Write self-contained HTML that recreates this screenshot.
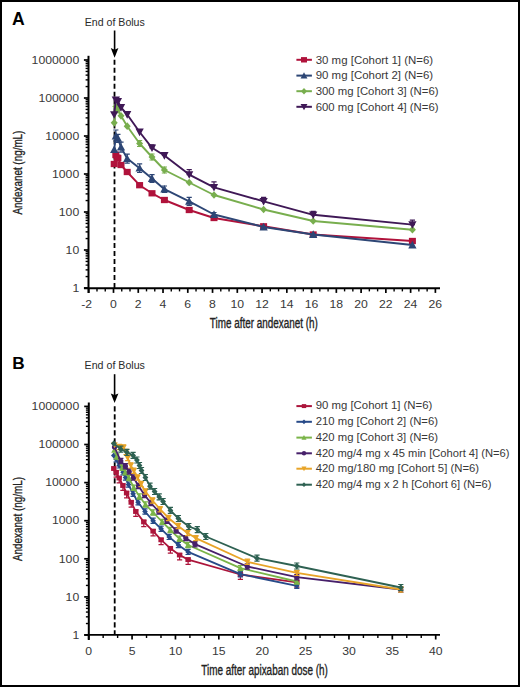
<!DOCTYPE html>
<html><head><meta charset="utf-8"><style>
html,body{margin:0;padding:0;background:#fff;}
body{width:520px;height:687px;overflow:hidden;}
svg{display:block;font-family:"Liberation Sans", sans-serif;}
</style></head><body>
<svg width="520" height="687" viewBox="0 0 520 687">
<rect x="0" y="0" width="520" height="687" fill="#fff"/>
<text x="12.0" y="25.2" font-size="17.6" text-anchor="start" font-weight="bold" fill="#000">A</text>
<text x="84.8" y="26.0" font-size="10.7" text-anchor="start" font-weight="normal" fill="#2a2a2a" textLength="60" lengthAdjust="spacingAndGlyphs">End of Bolus</text>
<path d="M114.6,30.5V51.3" stroke="#000" stroke-width="1.6" fill="none"/>
<path d="M110.8,48.0 L114.6,49.699999999999996 L118.39999999999999,48.0 L114.6,57.699999999999996Z" fill="#000"/>
<path d="M114.5,59.8V288" stroke="#000" stroke-width="1.8" stroke-dasharray="5 2.97" fill="none"/>
<path d="M88.5,55.8V293" stroke="#000" stroke-width="2.0" fill="none"/>
<path d="M83.9,288.00H88.5" stroke="#000" stroke-width="1.7"/>
<path d="M85.6,276.56H88.5" stroke="#000" stroke-width="1.4"/>
<path d="M85.6,269.87H88.5" stroke="#000" stroke-width="1.4"/>
<path d="M85.6,265.12H88.5" stroke="#000" stroke-width="1.4"/>
<path d="M85.6,261.44H88.5" stroke="#000" stroke-width="1.4"/>
<path d="M85.6,258.43H88.5" stroke="#000" stroke-width="1.4"/>
<path d="M85.6,255.89H88.5" stroke="#000" stroke-width="1.4"/>
<path d="M85.6,253.68H88.5" stroke="#000" stroke-width="1.4"/>
<path d="M85.6,251.74H88.5" stroke="#000" stroke-width="1.4"/>
<text x="79.2" y="291.7" font-size="10.3" text-anchor="end" font-weight="normal" fill="#383838" textLength="6.8" lengthAdjust="spacingAndGlyphs">1</text>
<path d="M83.9,250.00H88.5" stroke="#000" stroke-width="1.7"/>
<path d="M85.6,238.56H88.5" stroke="#000" stroke-width="1.4"/>
<path d="M85.6,231.87H88.5" stroke="#000" stroke-width="1.4"/>
<path d="M85.6,227.12H88.5" stroke="#000" stroke-width="1.4"/>
<path d="M85.6,223.44H88.5" stroke="#000" stroke-width="1.4"/>
<path d="M85.6,220.43H88.5" stroke="#000" stroke-width="1.4"/>
<path d="M85.6,217.89H88.5" stroke="#000" stroke-width="1.4"/>
<path d="M85.6,215.68H88.5" stroke="#000" stroke-width="1.4"/>
<path d="M85.6,213.74H88.5" stroke="#000" stroke-width="1.4"/>
<text x="79.2" y="253.7" font-size="10.3" text-anchor="end" font-weight="normal" fill="#383838" textLength="13.6" lengthAdjust="spacingAndGlyphs">10</text>
<path d="M83.9,212.00H88.5" stroke="#000" stroke-width="1.7"/>
<path d="M85.6,200.56H88.5" stroke="#000" stroke-width="1.4"/>
<path d="M85.6,193.87H88.5" stroke="#000" stroke-width="1.4"/>
<path d="M85.6,189.12H88.5" stroke="#000" stroke-width="1.4"/>
<path d="M85.6,185.44H88.5" stroke="#000" stroke-width="1.4"/>
<path d="M85.6,182.43H88.5" stroke="#000" stroke-width="1.4"/>
<path d="M85.6,179.89H88.5" stroke="#000" stroke-width="1.4"/>
<path d="M85.6,177.68H88.5" stroke="#000" stroke-width="1.4"/>
<path d="M85.6,175.74H88.5" stroke="#000" stroke-width="1.4"/>
<text x="79.2" y="215.7" font-size="10.3" text-anchor="end" font-weight="normal" fill="#383838" textLength="20.4" lengthAdjust="spacingAndGlyphs">100</text>
<path d="M83.9,174.00H88.5" stroke="#000" stroke-width="1.7"/>
<path d="M85.6,162.56H88.5" stroke="#000" stroke-width="1.4"/>
<path d="M85.6,155.87H88.5" stroke="#000" stroke-width="1.4"/>
<path d="M85.6,151.12H88.5" stroke="#000" stroke-width="1.4"/>
<path d="M85.6,147.44H88.5" stroke="#000" stroke-width="1.4"/>
<path d="M85.6,144.43H88.5" stroke="#000" stroke-width="1.4"/>
<path d="M85.6,141.89H88.5" stroke="#000" stroke-width="1.4"/>
<path d="M85.6,139.68H88.5" stroke="#000" stroke-width="1.4"/>
<path d="M85.6,137.74H88.5" stroke="#000" stroke-width="1.4"/>
<text x="79.2" y="177.7" font-size="10.3" text-anchor="end" font-weight="normal" fill="#383838" textLength="27.2" lengthAdjust="spacingAndGlyphs">1000</text>
<path d="M83.9,136.00H88.5" stroke="#000" stroke-width="1.7"/>
<path d="M85.6,124.56H88.5" stroke="#000" stroke-width="1.4"/>
<path d="M85.6,117.87H88.5" stroke="#000" stroke-width="1.4"/>
<path d="M85.6,113.12H88.5" stroke="#000" stroke-width="1.4"/>
<path d="M85.6,109.44H88.5" stroke="#000" stroke-width="1.4"/>
<path d="M85.6,106.43H88.5" stroke="#000" stroke-width="1.4"/>
<path d="M85.6,103.89H88.5" stroke="#000" stroke-width="1.4"/>
<path d="M85.6,101.68H88.5" stroke="#000" stroke-width="1.4"/>
<path d="M85.6,99.74H88.5" stroke="#000" stroke-width="1.4"/>
<text x="79.2" y="139.7" font-size="10.3" text-anchor="end" font-weight="normal" fill="#383838" textLength="34.0" lengthAdjust="spacingAndGlyphs">10000</text>
<path d="M83.9,98.00H88.5" stroke="#000" stroke-width="1.7"/>
<path d="M85.6,86.56H88.5" stroke="#000" stroke-width="1.4"/>
<path d="M85.6,79.87H88.5" stroke="#000" stroke-width="1.4"/>
<path d="M85.6,75.12H88.5" stroke="#000" stroke-width="1.4"/>
<path d="M85.6,71.44H88.5" stroke="#000" stroke-width="1.4"/>
<path d="M85.6,68.43H88.5" stroke="#000" stroke-width="1.4"/>
<path d="M85.6,65.89H88.5" stroke="#000" stroke-width="1.4"/>
<path d="M85.6,63.68H88.5" stroke="#000" stroke-width="1.4"/>
<path d="M85.6,61.74H88.5" stroke="#000" stroke-width="1.4"/>
<text x="79.2" y="101.7" font-size="10.3" text-anchor="end" font-weight="normal" fill="#383838" textLength="40.8" lengthAdjust="spacingAndGlyphs">100000</text>
<path d="M83.9,60.00H88.5" stroke="#000" stroke-width="1.7"/>
<text x="79.2" y="63.7" font-size="10.3" text-anchor="end" font-weight="normal" fill="#383838" textLength="47.6" lengthAdjust="spacingAndGlyphs">1000000</text>
<path d="M84,288.3H440" stroke="#000" stroke-width="1.9" fill="none"/>
<path d="M88.74,288.3V292.90000000000003" stroke="#000" stroke-width="1.7"/>
<text x="86.74" y="308.2" font-size="10.3" text-anchor="middle" font-weight="normal" fill="#383838" textLength="10.8" lengthAdjust="spacingAndGlyphs">-2</text>
<path d="M113.50,288.3V292.90000000000003" stroke="#000" stroke-width="1.7"/>
<text x="113.50" y="308.2" font-size="10.3" text-anchor="middle" font-weight="normal" fill="#383838" textLength="6.8" lengthAdjust="spacingAndGlyphs">0</text>
<path d="M138.26,288.3V292.90000000000003" stroke="#000" stroke-width="1.7"/>
<text x="138.26" y="308.2" font-size="10.3" text-anchor="middle" font-weight="normal" fill="#383838" textLength="6.8" lengthAdjust="spacingAndGlyphs">2</text>
<path d="M163.02,288.3V292.90000000000003" stroke="#000" stroke-width="1.7"/>
<text x="163.02" y="308.2" font-size="10.3" text-anchor="middle" font-weight="normal" fill="#383838" textLength="6.8" lengthAdjust="spacingAndGlyphs">4</text>
<path d="M187.78,288.3V292.90000000000003" stroke="#000" stroke-width="1.7"/>
<text x="187.78" y="308.2" font-size="10.3" text-anchor="middle" font-weight="normal" fill="#383838" textLength="6.8" lengthAdjust="spacingAndGlyphs">6</text>
<path d="M212.54,288.3V292.90000000000003" stroke="#000" stroke-width="1.7"/>
<text x="212.54" y="308.2" font-size="10.3" text-anchor="middle" font-weight="normal" fill="#383838" textLength="6.8" lengthAdjust="spacingAndGlyphs">8</text>
<path d="M237.30,288.3V292.90000000000003" stroke="#000" stroke-width="1.7"/>
<text x="237.30" y="308.2" font-size="10.3" text-anchor="middle" font-weight="normal" fill="#383838" textLength="13.6" lengthAdjust="spacingAndGlyphs">10</text>
<path d="M262.06,288.3V292.90000000000003" stroke="#000" stroke-width="1.7"/>
<text x="262.06" y="308.2" font-size="10.3" text-anchor="middle" font-weight="normal" fill="#383838" textLength="13.6" lengthAdjust="spacingAndGlyphs">12</text>
<path d="M286.82,288.3V292.90000000000003" stroke="#000" stroke-width="1.7"/>
<text x="286.82" y="308.2" font-size="10.3" text-anchor="middle" font-weight="normal" fill="#383838" textLength="13.6" lengthAdjust="spacingAndGlyphs">14</text>
<path d="M311.58,288.3V292.90000000000003" stroke="#000" stroke-width="1.7"/>
<text x="311.58" y="308.2" font-size="10.3" text-anchor="middle" font-weight="normal" fill="#383838" textLength="13.6" lengthAdjust="spacingAndGlyphs">16</text>
<path d="M336.34,288.3V292.90000000000003" stroke="#000" stroke-width="1.7"/>
<text x="336.34" y="308.2" font-size="10.3" text-anchor="middle" font-weight="normal" fill="#383838" textLength="13.6" lengthAdjust="spacingAndGlyphs">18</text>
<path d="M361.10,288.3V292.90000000000003" stroke="#000" stroke-width="1.7"/>
<text x="361.10" y="308.2" font-size="10.3" text-anchor="middle" font-weight="normal" fill="#383838" textLength="13.6" lengthAdjust="spacingAndGlyphs">20</text>
<path d="M385.86,288.3V292.90000000000003" stroke="#000" stroke-width="1.7"/>
<text x="385.86" y="308.2" font-size="10.3" text-anchor="middle" font-weight="normal" fill="#383838" textLength="13.6" lengthAdjust="spacingAndGlyphs">22</text>
<path d="M410.62,288.3V292.90000000000003" stroke="#000" stroke-width="1.7"/>
<text x="410.62" y="308.2" font-size="10.3" text-anchor="middle" font-weight="normal" fill="#383838" textLength="13.6" lengthAdjust="spacingAndGlyphs">24</text>
<path d="M435.38,288.3V292.90000000000003" stroke="#000" stroke-width="1.7"/>
<text x="435.38" y="308.2" font-size="10.3" text-anchor="middle" font-weight="normal" fill="#383838" textLength="13.6" lengthAdjust="spacingAndGlyphs">26</text>
<path d="M96.99,288.3V291.40000000000003" stroke="#000" stroke-width="1.4"/>
<path d="M105.25,288.3V291.40000000000003" stroke="#000" stroke-width="1.4"/>
<path d="M121.75,288.3V291.40000000000003" stroke="#000" stroke-width="1.4"/>
<path d="M130.01,288.3V291.40000000000003" stroke="#000" stroke-width="1.4"/>
<path d="M146.51,288.3V291.40000000000003" stroke="#000" stroke-width="1.4"/>
<path d="M154.77,288.3V291.40000000000003" stroke="#000" stroke-width="1.4"/>
<path d="M171.27,288.3V291.40000000000003" stroke="#000" stroke-width="1.4"/>
<path d="M179.53,288.3V291.40000000000003" stroke="#000" stroke-width="1.4"/>
<path d="M196.03,288.3V291.40000000000003" stroke="#000" stroke-width="1.4"/>
<path d="M204.29,288.3V291.40000000000003" stroke="#000" stroke-width="1.4"/>
<path d="M220.79,288.3V291.40000000000003" stroke="#000" stroke-width="1.4"/>
<path d="M229.05,288.3V291.40000000000003" stroke="#000" stroke-width="1.4"/>
<path d="M245.55,288.3V291.40000000000003" stroke="#000" stroke-width="1.4"/>
<path d="M253.81,288.3V291.40000000000003" stroke="#000" stroke-width="1.4"/>
<path d="M270.31,288.3V291.40000000000003" stroke="#000" stroke-width="1.4"/>
<path d="M278.57,288.3V291.40000000000003" stroke="#000" stroke-width="1.4"/>
<path d="M295.07,288.3V291.40000000000003" stroke="#000" stroke-width="1.4"/>
<path d="M303.33,288.3V291.40000000000003" stroke="#000" stroke-width="1.4"/>
<path d="M319.83,288.3V291.40000000000003" stroke="#000" stroke-width="1.4"/>
<path d="M328.09,288.3V291.40000000000003" stroke="#000" stroke-width="1.4"/>
<path d="M344.59,288.3V291.40000000000003" stroke="#000" stroke-width="1.4"/>
<path d="M352.85,288.3V291.40000000000003" stroke="#000" stroke-width="1.4"/>
<path d="M369.35,288.3V291.40000000000003" stroke="#000" stroke-width="1.4"/>
<path d="M377.61,288.3V291.40000000000003" stroke="#000" stroke-width="1.4"/>
<path d="M394.11,288.3V291.40000000000003" stroke="#000" stroke-width="1.4"/>
<path d="M402.37,288.3V291.40000000000003" stroke="#000" stroke-width="1.4"/>
<path d="M418.87,288.3V291.40000000000003" stroke="#000" stroke-width="1.4"/>
<path d="M427.13,288.3V291.40000000000003" stroke="#000" stroke-width="1.4"/>
<text x="209.8" y="327.5" font-size="14" text-anchor="start" font-weight="normal" fill="#222" textLength="108.0" lengthAdjust="spacingAndGlyphs" stroke="#222" stroke-width="0.35">Time after andexanet (h)</text>
<text transform="translate(22.3,172.6) rotate(-90)" x="0" y="0" font-size="13.3" text-anchor="middle" fill="#222" stroke="#222" stroke-width="0.35" textLength="84" lengthAdjust="spacingAndGlyphs">Andexanet (ng/mL)</text>
<path d="M114.20,164.00 L115.83,155.00 L117.90,158.00 L121.00,165.00 L127.20,172.00 L139.60,185.20 L152.00,193.30 L164.40,200.00 L189.20,210.00 L214.00,218.00 L263.60,226.30 L313.20,234.50 L412.40,241.00" stroke="#b0123b" stroke-width="1.9" fill="none" stroke-linejoin="round"/>
<path d="M115.83,152.00V158.00M113.23,152.00h5.20M113.23,158.00h5.20" stroke="#b0123b" stroke-width="1.2" fill="none"/>
<path d="M117.90,155.00V161.00M115.30,155.00h5.20M115.30,161.00h5.20" stroke="#b0123b" stroke-width="1.2" fill="none"/>
<rect x="110.70" y="160.85" width="7.00" height="6.30" fill="#b0123b"/>
<rect x="112.33" y="151.85" width="7.00" height="6.30" fill="#b0123b"/>
<rect x="114.40" y="154.85" width="7.00" height="6.30" fill="#b0123b"/>
<rect x="117.50" y="161.85" width="7.00" height="6.30" fill="#b0123b"/>
<rect x="123.70" y="168.85" width="7.00" height="6.30" fill="#b0123b"/>
<rect x="136.10" y="182.05" width="7.00" height="6.30" fill="#b0123b"/>
<rect x="148.50" y="190.15" width="7.00" height="6.30" fill="#b0123b"/>
<rect x="160.90" y="196.85" width="7.00" height="6.30" fill="#b0123b"/>
<rect x="185.70" y="206.85" width="7.00" height="6.30" fill="#b0123b"/>
<rect x="210.50" y="214.85" width="7.00" height="6.30" fill="#b0123b"/>
<rect x="260.10" y="223.15" width="7.00" height="6.30" fill="#b0123b"/>
<rect x="309.70" y="231.35" width="7.00" height="6.30" fill="#b0123b"/>
<rect x="408.90" y="237.85" width="7.00" height="6.30" fill="#b0123b"/>
<path d="M114.20,149.60 L115.83,136.00 L117.90,138.40 L121.00,147.20 L127.20,158.60 L139.60,168.20 L152.00,178.50 L164.40,189.20 L189.20,201.40 L214.00,214.50 L263.60,227.00 L313.20,234.50 L412.40,245.00" stroke="#2d4675" stroke-width="1.9" fill="none" stroke-linejoin="round"/>
<path d="M115.83,130.00V141.00M113.23,130.00h5.20M113.23,141.00h5.20" stroke="#2d4675" stroke-width="1.2" fill="none"/>
<path d="M117.90,134.40V142.40M115.30,134.40h5.20M115.30,142.40h5.20" stroke="#2d4675" stroke-width="1.2" fill="none"/>
<path d="M121.00,142.20V152.20M118.40,142.20h5.20M118.40,152.20h5.20" stroke="#2d4675" stroke-width="1.2" fill="none"/>
<path d="M127.20,154.10V163.10M124.60,154.10h5.20M124.60,163.10h5.20" stroke="#2d4675" stroke-width="1.2" fill="none"/>
<path d="M139.60,163.90V172.50M137.00,163.90h5.20M137.00,172.50h5.20" stroke="#2d4675" stroke-width="1.2" fill="none"/>
<path d="M152.00,174.70V182.30M149.40,174.70h5.20M149.40,182.30h5.20" stroke="#2d4675" stroke-width="1.2" fill="none"/>
<path d="M164.40,186.00V192.40M161.80,186.00h5.20M161.80,192.40h5.20" stroke="#2d4675" stroke-width="1.2" fill="none"/>
<path d="M189.20,197.40V205.40M186.60,197.40h5.20M186.60,205.40h5.20" stroke="#2d4675" stroke-width="1.2" fill="none"/>
<path d="M214.00,212.50V216.50M211.40,212.50h5.20M211.40,216.50h5.20" stroke="#2d4675" stroke-width="1.2" fill="none"/>
<path d="M114.20,145.46 L118.34,153.02 L110.06,153.02Z" fill="#2d4675"/>
<path d="M115.83,131.86 L119.97,139.42 L111.69,139.42Z" fill="#2d4675"/>
<path d="M117.90,134.26 L122.04,141.82 L113.76,141.82Z" fill="#2d4675"/>
<path d="M121.00,143.06 L125.14,150.62 L116.86,150.62Z" fill="#2d4675"/>
<path d="M127.20,154.46 L131.34,162.02 L123.06,162.02Z" fill="#2d4675"/>
<path d="M139.60,164.06 L143.74,171.62 L135.46,171.62Z" fill="#2d4675"/>
<path d="M152.00,174.36 L156.14,181.92 L147.86,181.92Z" fill="#2d4675"/>
<path d="M164.40,185.06 L168.54,192.62 L160.26,192.62Z" fill="#2d4675"/>
<path d="M189.20,197.26 L193.34,204.82 L185.06,204.82Z" fill="#2d4675"/>
<path d="M214.00,210.36 L218.14,217.92 L209.86,217.92Z" fill="#2d4675"/>
<path d="M263.60,222.86 L267.74,230.42 L259.46,230.42Z" fill="#2d4675"/>
<path d="M313.20,230.36 L317.34,237.92 L309.06,237.92Z" fill="#2d4675"/>
<path d="M412.40,240.86 L416.54,248.42 L408.26,248.42Z" fill="#2d4675"/>
<path d="M114.20,122.80 L115.83,106.50 L117.90,110.00 L121.00,115.80 L127.20,126.20 L139.60,143.50 L152.00,157.00 L164.40,170.00 L189.20,182.50 L214.00,195.00 L263.60,209.50 L313.20,221.00 L412.40,229.70" stroke="#78ae4e" stroke-width="1.9" fill="none" stroke-linejoin="round"/>
<path d="M139.60,140.50V146.50M137.00,140.50h5.20M137.00,146.50h5.20" stroke="#78ae4e" stroke-width="1.2" fill="none"/>
<path d="M152.00,154.00V160.00M149.40,154.00h5.20M149.40,160.00h5.20" stroke="#78ae4e" stroke-width="1.2" fill="none"/>
<path d="M164.40,167.00V173.00M161.80,167.00h5.20M161.80,173.00h5.20" stroke="#78ae4e" stroke-width="1.2" fill="none"/>
<path d="M114.20,118.95 L117.70,122.80 L114.20,126.65 L110.70,122.80Z" fill="#78ae4e"/>
<path d="M115.83,102.65 L119.33,106.50 L115.83,110.35 L112.33,106.50Z" fill="#78ae4e"/>
<path d="M117.90,106.15 L121.40,110.00 L117.90,113.85 L114.40,110.00Z" fill="#78ae4e"/>
<path d="M121.00,111.95 L124.50,115.80 L121.00,119.65 L117.50,115.80Z" fill="#78ae4e"/>
<path d="M127.20,122.35 L130.70,126.20 L127.20,130.05 L123.70,126.20Z" fill="#78ae4e"/>
<path d="M139.60,139.65 L143.10,143.50 L139.60,147.35 L136.10,143.50Z" fill="#78ae4e"/>
<path d="M152.00,153.15 L155.50,157.00 L152.00,160.85 L148.50,157.00Z" fill="#78ae4e"/>
<path d="M164.40,166.15 L167.90,170.00 L164.40,173.85 L160.90,170.00Z" fill="#78ae4e"/>
<path d="M189.20,178.65 L192.70,182.50 L189.20,186.35 L185.70,182.50Z" fill="#78ae4e"/>
<path d="M214.00,191.15 L217.50,195.00 L214.00,198.85 L210.50,195.00Z" fill="#78ae4e"/>
<path d="M263.60,205.65 L267.10,209.50 L263.60,213.35 L260.10,209.50Z" fill="#78ae4e"/>
<path d="M313.20,217.15 L316.70,221.00 L313.20,224.85 L309.70,221.00Z" fill="#78ae4e"/>
<path d="M412.40,225.85 L415.90,229.70 L412.40,233.55 L408.90,229.70Z" fill="#78ae4e"/>
<path d="M114.20,114.60 L115.83,100.00 L117.90,101.50 L121.00,107.50 L127.20,114.50 L139.60,132.00 L152.00,147.80 L164.40,155.50 L189.20,174.60 L214.00,187.40 L263.60,201.30 L313.20,214.80 L412.40,224.60" stroke="#3f1856" stroke-width="1.9" fill="none" stroke-linejoin="round"/>
<path d="M152.00,144.80V147.80M149.40,144.80h5.20M149.40,147.80h5.20" stroke="#3f1856" stroke-width="1.2" fill="none"/>
<path d="M164.40,152.50V155.50M161.80,152.50h5.20M161.80,155.50h5.20" stroke="#3f1856" stroke-width="1.2" fill="none"/>
<path d="M189.20,169.60V174.60M186.60,169.60h5.20M186.60,174.60h5.20" stroke="#3f1856" stroke-width="1.2" fill="none"/>
<path d="M214.00,181.90V187.40M211.40,181.90h5.20M211.40,187.40h5.20" stroke="#3f1856" stroke-width="1.2" fill="none"/>
<path d="M263.60,197.30V201.30M261.00,197.30h5.20M261.00,201.30h5.20" stroke="#3f1856" stroke-width="1.2" fill="none"/>
<path d="M313.20,211.30V214.80M310.60,211.30h5.20M310.60,214.80h5.20" stroke="#3f1856" stroke-width="1.2" fill="none"/>
<path d="M412.40,220.10V224.60M409.80,220.10h5.20M409.80,224.60h5.20" stroke="#3f1856" stroke-width="1.2" fill="none"/>
<path d="M114.20,118.74 L118.34,111.18 L110.06,111.18Z" fill="#3f1856"/>
<path d="M115.83,104.14 L119.97,96.58 L111.69,96.58Z" fill="#3f1856"/>
<path d="M117.90,105.64 L122.04,98.08 L113.76,98.08Z" fill="#3f1856"/>
<path d="M121.00,111.64 L125.14,104.08 L116.86,104.08Z" fill="#3f1856"/>
<path d="M127.20,118.64 L131.34,111.08 L123.06,111.08Z" fill="#3f1856"/>
<path d="M139.60,136.14 L143.74,128.58 L135.46,128.58Z" fill="#3f1856"/>
<path d="M152.00,151.94 L156.14,144.38 L147.86,144.38Z" fill="#3f1856"/>
<path d="M164.40,159.64 L168.54,152.08 L160.26,152.08Z" fill="#3f1856"/>
<path d="M189.20,178.74 L193.34,171.18 L185.06,171.18Z" fill="#3f1856"/>
<path d="M214.00,191.54 L218.14,183.98 L209.86,183.98Z" fill="#3f1856"/>
<path d="M263.60,205.44 L267.74,197.88 L259.46,197.88Z" fill="#3f1856"/>
<path d="M313.20,218.94 L317.34,211.38 L309.06,211.38Z" fill="#3f1856"/>
<path d="M412.40,228.74 L416.54,221.18 L408.26,221.18Z" fill="#3f1856"/>
<path d="M296.4,59.8H311.9" stroke="#b0123b" stroke-width="2.0"/>
<rect x="301.00" y="57.10" width="6.00" height="5.40" fill="#b0123b"/>
<text x="315.7" y="63.5" font-size="10" text-anchor="start" font-weight="normal" fill="#383838" textLength="117.5" lengthAdjust="spacingAndGlyphs">30 mg [Cohort 1] (N=6)</text>
<path d="M296.4,75.6H311.9" stroke="#2d4675" stroke-width="2.0"/>
<path d="M304.00,72.15 L307.45,78.45 L300.55,78.45Z" fill="#2d4675"/>
<text x="315.7" y="79.3" font-size="10" text-anchor="start" font-weight="normal" fill="#383838" textLength="117.5" lengthAdjust="spacingAndGlyphs">90 mg [Cohort 2] (N=6)</text>
<path d="M296.4,91.2H311.9" stroke="#78ae4e" stroke-width="2.0"/>
<path d="M304.00,87.90 L307.00,91.20 L304.00,94.50 L301.00,91.20Z" fill="#78ae4e"/>
<text x="315.7" y="94.9" font-size="10" text-anchor="start" font-weight="normal" fill="#383838" textLength="122.8" lengthAdjust="spacingAndGlyphs">300 mg [Cohort 3] (N=6)</text>
<path d="M296.4,106.8H311.9" stroke="#3f1856" stroke-width="2.0"/>
<path d="M304.00,110.25 L307.45,103.95 L300.55,103.95Z" fill="#3f1856"/>
<text x="315.7" y="110.5" font-size="10" text-anchor="start" font-weight="normal" fill="#383838" textLength="122.8" lengthAdjust="spacingAndGlyphs">600 mg [Cohort 4] (N=6)</text>
<text x="12.2" y="368.7" font-size="17.2" text-anchor="start" font-weight="bold" fill="#000">B</text>
<text x="84.6" y="369.1" font-size="10.7" text-anchor="start" font-weight="normal" fill="#2a2a2a" textLength="60.3" lengthAdjust="spacingAndGlyphs">End of Bolus</text>
<path d="M114.6,374.2V396.7" stroke="#000" stroke-width="1.6" fill="none"/>
<path d="M110.8,393.4 L114.6,395.09999999999997 L118.39999999999999,393.4 L114.6,403.09999999999997Z" fill="#000"/>
<path d="M114.7,406.3V635" stroke="#000" stroke-width="1.8" stroke-dasharray="5.2 2.8" fill="none"/>
<path d="M88.8,402.5V640" stroke="#000" stroke-width="2.0" fill="none"/>
<path d="M84.2,635.00H88.8" stroke="#000" stroke-width="1.7"/>
<path d="M85.89999999999999,623.53H88.8" stroke="#000" stroke-width="1.4"/>
<path d="M85.89999999999999,616.82H88.8" stroke="#000" stroke-width="1.4"/>
<path d="M85.89999999999999,612.06H88.8" stroke="#000" stroke-width="1.4"/>
<path d="M85.89999999999999,608.37H88.8" stroke="#000" stroke-width="1.4"/>
<path d="M85.89999999999999,605.35H88.8" stroke="#000" stroke-width="1.4"/>
<path d="M85.89999999999999,602.80H88.8" stroke="#000" stroke-width="1.4"/>
<path d="M85.89999999999999,600.59H88.8" stroke="#000" stroke-width="1.4"/>
<path d="M85.89999999999999,598.64H88.8" stroke="#000" stroke-width="1.4"/>
<text x="79.2" y="638.7" font-size="10.3" text-anchor="end" font-weight="normal" fill="#383838" textLength="6.8" lengthAdjust="spacingAndGlyphs">1</text>
<path d="M84.2,596.90H88.8" stroke="#000" stroke-width="1.7"/>
<path d="M85.89999999999999,585.43H88.8" stroke="#000" stroke-width="1.4"/>
<path d="M85.89999999999999,578.72H88.8" stroke="#000" stroke-width="1.4"/>
<path d="M85.89999999999999,573.96H88.8" stroke="#000" stroke-width="1.4"/>
<path d="M85.89999999999999,570.27H88.8" stroke="#000" stroke-width="1.4"/>
<path d="M85.89999999999999,567.25H88.8" stroke="#000" stroke-width="1.4"/>
<path d="M85.89999999999999,564.70H88.8" stroke="#000" stroke-width="1.4"/>
<path d="M85.89999999999999,562.49H88.8" stroke="#000" stroke-width="1.4"/>
<path d="M85.89999999999999,560.54H88.8" stroke="#000" stroke-width="1.4"/>
<text x="79.2" y="600.6" font-size="10.3" text-anchor="end" font-weight="normal" fill="#383838" textLength="13.6" lengthAdjust="spacingAndGlyphs">10</text>
<path d="M84.2,558.80H88.8" stroke="#000" stroke-width="1.7"/>
<path d="M85.89999999999999,547.33H88.8" stroke="#000" stroke-width="1.4"/>
<path d="M85.89999999999999,540.62H88.8" stroke="#000" stroke-width="1.4"/>
<path d="M85.89999999999999,535.86H88.8" stroke="#000" stroke-width="1.4"/>
<path d="M85.89999999999999,532.17H88.8" stroke="#000" stroke-width="1.4"/>
<path d="M85.89999999999999,529.15H88.8" stroke="#000" stroke-width="1.4"/>
<path d="M85.89999999999999,526.60H88.8" stroke="#000" stroke-width="1.4"/>
<path d="M85.89999999999999,524.39H88.8" stroke="#000" stroke-width="1.4"/>
<path d="M85.89999999999999,522.44H88.8" stroke="#000" stroke-width="1.4"/>
<text x="79.2" y="562.5" font-size="10.3" text-anchor="end" font-weight="normal" fill="#383838" textLength="20.4" lengthAdjust="spacingAndGlyphs">100</text>
<path d="M84.2,520.70H88.8" stroke="#000" stroke-width="1.7"/>
<path d="M85.89999999999999,509.23H88.8" stroke="#000" stroke-width="1.4"/>
<path d="M85.89999999999999,502.52H88.8" stroke="#000" stroke-width="1.4"/>
<path d="M85.89999999999999,497.76H88.8" stroke="#000" stroke-width="1.4"/>
<path d="M85.89999999999999,494.07H88.8" stroke="#000" stroke-width="1.4"/>
<path d="M85.89999999999999,491.05H88.8" stroke="#000" stroke-width="1.4"/>
<path d="M85.89999999999999,488.50H88.8" stroke="#000" stroke-width="1.4"/>
<path d="M85.89999999999999,486.29H88.8" stroke="#000" stroke-width="1.4"/>
<path d="M85.89999999999999,484.34H88.8" stroke="#000" stroke-width="1.4"/>
<text x="79.2" y="524.4000000000001" font-size="10.3" text-anchor="end" font-weight="normal" fill="#383838" textLength="27.2" lengthAdjust="spacingAndGlyphs">1000</text>
<path d="M84.2,482.60H88.8" stroke="#000" stroke-width="1.7"/>
<path d="M85.89999999999999,471.13H88.8" stroke="#000" stroke-width="1.4"/>
<path d="M85.89999999999999,464.42H88.8" stroke="#000" stroke-width="1.4"/>
<path d="M85.89999999999999,459.66H88.8" stroke="#000" stroke-width="1.4"/>
<path d="M85.89999999999999,455.97H88.8" stroke="#000" stroke-width="1.4"/>
<path d="M85.89999999999999,452.95H88.8" stroke="#000" stroke-width="1.4"/>
<path d="M85.89999999999999,450.40H88.8" stroke="#000" stroke-width="1.4"/>
<path d="M85.89999999999999,448.19H88.8" stroke="#000" stroke-width="1.4"/>
<path d="M85.89999999999999,446.24H88.8" stroke="#000" stroke-width="1.4"/>
<text x="79.2" y="486.3" font-size="10.3" text-anchor="end" font-weight="normal" fill="#383838" textLength="34.0" lengthAdjust="spacingAndGlyphs">10000</text>
<path d="M84.2,444.50H88.8" stroke="#000" stroke-width="1.7"/>
<path d="M85.89999999999999,433.03H88.8" stroke="#000" stroke-width="1.4"/>
<path d="M85.89999999999999,426.32H88.8" stroke="#000" stroke-width="1.4"/>
<path d="M85.89999999999999,421.56H88.8" stroke="#000" stroke-width="1.4"/>
<path d="M85.89999999999999,417.87H88.8" stroke="#000" stroke-width="1.4"/>
<path d="M85.89999999999999,414.85H88.8" stroke="#000" stroke-width="1.4"/>
<path d="M85.89999999999999,412.30H88.8" stroke="#000" stroke-width="1.4"/>
<path d="M85.89999999999999,410.09H88.8" stroke="#000" stroke-width="1.4"/>
<path d="M85.89999999999999,408.14H88.8" stroke="#000" stroke-width="1.4"/>
<text x="79.2" y="448.2" font-size="10.3" text-anchor="end" font-weight="normal" fill="#383838" textLength="40.8" lengthAdjust="spacingAndGlyphs">100000</text>
<path d="M84.2,406.40H88.8" stroke="#000" stroke-width="1.7"/>
<text x="79.2" y="410.09999999999997" font-size="10.3" text-anchor="end" font-weight="normal" fill="#383838" textLength="47.6" lengthAdjust="spacingAndGlyphs">1000000</text>
<path d="M84.3,634.9H440" stroke="#000" stroke-width="1.9" fill="none"/>
<path d="M88.70,634.9V639.5" stroke="#000" stroke-width="1.7"/>
<text x="88.70" y="654.5" font-size="10.3" text-anchor="middle" font-weight="normal" fill="#383838" textLength="6.8" lengthAdjust="spacingAndGlyphs">0</text>
<path d="M132.07,634.9V639.5" stroke="#000" stroke-width="1.7"/>
<text x="132.07" y="654.5" font-size="10.3" text-anchor="middle" font-weight="normal" fill="#383838" textLength="6.8" lengthAdjust="spacingAndGlyphs">5</text>
<path d="M175.45,634.9V639.5" stroke="#000" stroke-width="1.7"/>
<text x="175.45" y="654.5" font-size="10.3" text-anchor="middle" font-weight="normal" fill="#383838" textLength="13.6" lengthAdjust="spacingAndGlyphs">10</text>
<path d="M218.82,634.9V639.5" stroke="#000" stroke-width="1.7"/>
<text x="218.82" y="654.5" font-size="10.3" text-anchor="middle" font-weight="normal" fill="#383838" textLength="13.6" lengthAdjust="spacingAndGlyphs">15</text>
<path d="M262.20,634.9V639.5" stroke="#000" stroke-width="1.7"/>
<text x="262.20" y="654.5" font-size="10.3" text-anchor="middle" font-weight="normal" fill="#383838" textLength="13.6" lengthAdjust="spacingAndGlyphs">20</text>
<path d="M305.58,634.9V639.5" stroke="#000" stroke-width="1.7"/>
<text x="305.58" y="654.5" font-size="10.3" text-anchor="middle" font-weight="normal" fill="#383838" textLength="13.6" lengthAdjust="spacingAndGlyphs">25</text>
<path d="M348.95,634.9V639.5" stroke="#000" stroke-width="1.7"/>
<text x="348.95" y="654.5" font-size="10.3" text-anchor="middle" font-weight="normal" fill="#383838" textLength="13.6" lengthAdjust="spacingAndGlyphs">30</text>
<path d="M392.32,634.9V639.5" stroke="#000" stroke-width="1.7"/>
<text x="392.32" y="654.5" font-size="10.3" text-anchor="middle" font-weight="normal" fill="#383838" textLength="13.6" lengthAdjust="spacingAndGlyphs">35</text>
<path d="M435.70,634.9V639.5" stroke="#000" stroke-width="1.7"/>
<text x="435.70" y="654.5" font-size="10.3" text-anchor="middle" font-weight="normal" fill="#383838" textLength="13.6" lengthAdjust="spacingAndGlyphs">40</text>
<path d="M103.16,634.9V638.0" stroke="#000" stroke-width="1.4"/>
<path d="M117.62,634.9V638.0" stroke="#000" stroke-width="1.4"/>
<path d="M146.53,634.9V638.0" stroke="#000" stroke-width="1.4"/>
<path d="M160.99,634.9V638.0" stroke="#000" stroke-width="1.4"/>
<path d="M189.91,634.9V638.0" stroke="#000" stroke-width="1.4"/>
<path d="M204.37,634.9V638.0" stroke="#000" stroke-width="1.4"/>
<path d="M233.28,634.9V638.0" stroke="#000" stroke-width="1.4"/>
<path d="M247.74,634.9V638.0" stroke="#000" stroke-width="1.4"/>
<path d="M276.66,634.9V638.0" stroke="#000" stroke-width="1.4"/>
<path d="M291.12,634.9V638.0" stroke="#000" stroke-width="1.4"/>
<path d="M320.03,634.9V638.0" stroke="#000" stroke-width="1.4"/>
<path d="M334.49,634.9V638.0" stroke="#000" stroke-width="1.4"/>
<path d="M363.41,634.9V638.0" stroke="#000" stroke-width="1.4"/>
<path d="M377.87,634.9V638.0" stroke="#000" stroke-width="1.4"/>
<path d="M406.78,634.9V638.0" stroke="#000" stroke-width="1.4"/>
<path d="M421.24,634.9V638.0" stroke="#000" stroke-width="1.4"/>
<text x="201.3" y="674.7" font-size="14" text-anchor="start" font-weight="normal" fill="#222" textLength="126.6" lengthAdjust="spacingAndGlyphs" stroke="#222" stroke-width="0.35">Time after apixaban dose (h)</text>
<text transform="translate(22.3,519) rotate(-90)" x="0" y="0" font-size="13.3" text-anchor="middle" fill="#222" stroke="#222" stroke-width="0.35" textLength="84" lengthAdjust="spacingAndGlyphs">Andexanet (ng/mL)</text>
<path d="M113.80,468.50 L116.20,472.30 L119.20,478.00 L122.90,485.50 L126.60,493.00 L131.20,502.30 L135.80,511.50 L143.80,521.90 L153.10,531.10 L161.10,539.80 L170.40,548.40 L179.60,555.00 L188.10,559.60 L240.40,574.50 L296.80,582.40" stroke="#ac153b" stroke-width="1.8" fill="none" stroke-linejoin="round"/>
<path d="M116.20,470.80V477.10M113.60,470.80h5.20M113.60,477.10h5.20" stroke="#ac153b" stroke-width="1.2" fill="none"/>
<path d="M119.20,476.50V482.80M116.60,476.50h5.20M116.60,482.80h5.20" stroke="#ac153b" stroke-width="1.2" fill="none"/>
<path d="M122.90,484.00V490.30M120.30,484.00h5.20M120.30,490.30h5.20" stroke="#ac153b" stroke-width="1.2" fill="none"/>
<path d="M126.60,491.50V497.80M124.00,491.50h5.20M124.00,497.80h5.20" stroke="#ac153b" stroke-width="1.2" fill="none"/>
<path d="M131.20,500.80V507.10M128.60,500.80h5.20M128.60,507.10h5.20" stroke="#ac153b" stroke-width="1.2" fill="none"/>
<path d="M135.80,510.00V516.30M133.20,510.00h5.20M133.20,516.30h5.20" stroke="#ac153b" stroke-width="1.2" fill="none"/>
<path d="M143.80,520.40V526.70M141.20,520.40h5.20M141.20,526.70h5.20" stroke="#ac153b" stroke-width="1.2" fill="none"/>
<path d="M153.10,529.60V535.90M150.50,529.60h5.20M150.50,535.90h5.20" stroke="#ac153b" stroke-width="1.2" fill="none"/>
<path d="M161.10,538.30V544.60M158.50,538.30h5.20M158.50,544.60h5.20" stroke="#ac153b" stroke-width="1.2" fill="none"/>
<path d="M170.40,546.90V553.20M167.80,546.90h5.20M167.80,553.20h5.20" stroke="#ac153b" stroke-width="1.2" fill="none"/>
<path d="M179.60,553.50V559.80M177.00,553.50h5.20M177.00,559.80h5.20" stroke="#ac153b" stroke-width="1.2" fill="none"/>
<path d="M188.10,558.10V564.40M185.50,558.10h5.20M185.50,564.40h5.20" stroke="#ac153b" stroke-width="1.2" fill="none"/>
<path d="M240.40,573.00V579.30M237.80,573.00h5.20M237.80,579.30h5.20" stroke="#ac153b" stroke-width="1.2" fill="none"/>
<path d="M296.80,580.90V587.20M294.20,580.90h5.20M294.20,587.20h5.20" stroke="#ac153b" stroke-width="1.2" fill="none"/>
<rect x="111.10" y="466.07" width="5.40" height="4.86" fill="#ac153b"/>
<rect x="113.50" y="469.87" width="5.40" height="4.86" fill="#ac153b"/>
<rect x="116.50" y="475.57" width="5.40" height="4.86" fill="#ac153b"/>
<rect x="120.20" y="483.07" width="5.40" height="4.86" fill="#ac153b"/>
<rect x="123.90" y="490.57" width="5.40" height="4.86" fill="#ac153b"/>
<rect x="128.50" y="499.87" width="5.40" height="4.86" fill="#ac153b"/>
<rect x="133.10" y="509.07" width="5.40" height="4.86" fill="#ac153b"/>
<rect x="141.10" y="519.47" width="5.40" height="4.86" fill="#ac153b"/>
<rect x="150.40" y="528.67" width="5.40" height="4.86" fill="#ac153b"/>
<rect x="158.40" y="537.37" width="5.40" height="4.86" fill="#ac153b"/>
<rect x="167.70" y="545.97" width="5.40" height="4.86" fill="#ac153b"/>
<rect x="176.90" y="552.57" width="5.40" height="4.86" fill="#ac153b"/>
<rect x="185.40" y="557.17" width="5.40" height="4.86" fill="#ac153b"/>
<rect x="237.70" y="572.07" width="5.40" height="4.86" fill="#ac153b"/>
<rect x="294.10" y="579.97" width="5.40" height="4.86" fill="#ac153b"/>
<path d="M113.80,455.50 L116.20,459.20 L119.20,465.40 L123.10,472.30 L125.50,477.50 L128.50,484.60 L133.10,493.80 L138.10,502.30 L145.00,511.50 L153.10,520.80 L161.10,528.80 L169.20,536.90 L178.40,545.00 L188.10,551.90 L240.40,574.20 L296.80,585.80" stroke="#274a88" stroke-width="1.8" fill="none" stroke-linejoin="round"/>
<path d="M116.20,456.60V461.80M113.60,456.60h5.20M113.60,461.80h5.20" stroke="#274a88" stroke-width="1.2" fill="none"/>
<path d="M119.20,462.80V468.00M116.60,462.80h5.20M116.60,468.00h5.20" stroke="#274a88" stroke-width="1.2" fill="none"/>
<path d="M123.10,469.70V474.90M120.50,469.70h5.20M120.50,474.90h5.20" stroke="#274a88" stroke-width="1.2" fill="none"/>
<path d="M125.50,474.90V480.10M122.90,474.90h5.20M122.90,480.10h5.20" stroke="#274a88" stroke-width="1.2" fill="none"/>
<path d="M128.50,482.00V487.20M125.90,482.00h5.20M125.90,487.20h5.20" stroke="#274a88" stroke-width="1.2" fill="none"/>
<path d="M133.10,491.20V496.40M130.50,491.20h5.20M130.50,496.40h5.20" stroke="#274a88" stroke-width="1.2" fill="none"/>
<path d="M138.10,499.70V504.90M135.50,499.70h5.20M135.50,504.90h5.20" stroke="#274a88" stroke-width="1.2" fill="none"/>
<path d="M145.00,508.90V514.10M142.40,508.90h5.20M142.40,514.10h5.20" stroke="#274a88" stroke-width="1.2" fill="none"/>
<path d="M153.10,518.20V523.40M150.50,518.20h5.20M150.50,523.40h5.20" stroke="#274a88" stroke-width="1.2" fill="none"/>
<path d="M161.10,526.20V531.40M158.50,526.20h5.20M158.50,531.40h5.20" stroke="#274a88" stroke-width="1.2" fill="none"/>
<path d="M169.20,534.30V539.50M166.60,534.30h5.20M166.60,539.50h5.20" stroke="#274a88" stroke-width="1.2" fill="none"/>
<path d="M178.40,542.40V547.60M175.80,542.40h5.20M175.80,547.60h5.20" stroke="#274a88" stroke-width="1.2" fill="none"/>
<path d="M188.10,549.30V554.50M185.50,549.30h5.20M185.50,554.50h5.20" stroke="#274a88" stroke-width="1.2" fill="none"/>
<path d="M240.40,571.60V576.80M237.80,571.60h5.20M237.80,576.80h5.20" stroke="#274a88" stroke-width="1.2" fill="none"/>
<path d="M296.80,583.20V588.40M294.20,583.20h5.20M294.20,588.40h5.20" stroke="#274a88" stroke-width="1.2" fill="none"/>
<path d="M113.80,452.42 L116.60,455.50 L113.80,458.58 L111.00,455.50Z" fill="#274a88"/>
<path d="M116.20,456.12 L119.00,459.20 L116.20,462.28 L113.40,459.20Z" fill="#274a88"/>
<path d="M119.20,462.32 L122.00,465.40 L119.20,468.48 L116.40,465.40Z" fill="#274a88"/>
<path d="M123.10,469.22 L125.90,472.30 L123.10,475.38 L120.30,472.30Z" fill="#274a88"/>
<path d="M125.50,474.42 L128.30,477.50 L125.50,480.58 L122.70,477.50Z" fill="#274a88"/>
<path d="M128.50,481.52 L131.30,484.60 L128.50,487.68 L125.70,484.60Z" fill="#274a88"/>
<path d="M133.10,490.72 L135.90,493.80 L133.10,496.88 L130.30,493.80Z" fill="#274a88"/>
<path d="M138.10,499.22 L140.90,502.30 L138.10,505.38 L135.30,502.30Z" fill="#274a88"/>
<path d="M145.00,508.42 L147.80,511.50 L145.00,514.58 L142.20,511.50Z" fill="#274a88"/>
<path d="M153.10,517.72 L155.90,520.80 L153.10,523.88 L150.30,520.80Z" fill="#274a88"/>
<path d="M161.10,525.72 L163.90,528.80 L161.10,531.88 L158.30,528.80Z" fill="#274a88"/>
<path d="M169.20,533.82 L172.00,536.90 L169.20,539.98 L166.40,536.90Z" fill="#274a88"/>
<path d="M178.40,541.92 L181.20,545.00 L178.40,548.08 L175.60,545.00Z" fill="#274a88"/>
<path d="M188.10,548.82 L190.90,551.90 L188.10,554.98 L185.30,551.90Z" fill="#274a88"/>
<path d="M240.40,571.12 L243.20,574.20 L240.40,577.28 L237.60,574.20Z" fill="#274a88"/>
<path d="M296.80,582.72 L299.60,585.80 L296.80,588.88 L294.00,585.80Z" fill="#274a88"/>
<path d="M114.50,450.00 L116.90,456.50 L122.30,467.70 L125.40,472.30 L129.00,478.00 L133.80,487.70 L139.50,496.50 L145.50,504.50 L153.10,512.50 L162.30,521.90 L170.40,530.00 L179.60,538.80 L188.10,545.00 L240.40,568.10 L296.80,581.50" stroke="#7ab448" stroke-width="1.8" fill="none" stroke-linejoin="round"/>
<path d="M116.90,453.90V459.10M114.30,453.90h5.20M114.30,459.10h5.20" stroke="#7ab448" stroke-width="1.2" fill="none"/>
<path d="M122.30,465.10V470.30M119.70,465.10h5.20M119.70,470.30h5.20" stroke="#7ab448" stroke-width="1.2" fill="none"/>
<path d="M125.40,469.70V474.90M122.80,469.70h5.20M122.80,474.90h5.20" stroke="#7ab448" stroke-width="1.2" fill="none"/>
<path d="M129.00,475.40V480.60M126.40,475.40h5.20M126.40,480.60h5.20" stroke="#7ab448" stroke-width="1.2" fill="none"/>
<path d="M133.80,485.10V490.30M131.20,485.10h5.20M131.20,490.30h5.20" stroke="#7ab448" stroke-width="1.2" fill="none"/>
<path d="M139.50,493.90V499.10M136.90,493.90h5.20M136.90,499.10h5.20" stroke="#7ab448" stroke-width="1.2" fill="none"/>
<path d="M145.50,501.90V507.10M142.90,501.90h5.20M142.90,507.10h5.20" stroke="#7ab448" stroke-width="1.2" fill="none"/>
<path d="M153.10,509.90V515.10M150.50,509.90h5.20M150.50,515.10h5.20" stroke="#7ab448" stroke-width="1.2" fill="none"/>
<path d="M162.30,519.30V524.50M159.70,519.30h5.20M159.70,524.50h5.20" stroke="#7ab448" stroke-width="1.2" fill="none"/>
<path d="M170.40,527.40V532.60M167.80,527.40h5.20M167.80,532.60h5.20" stroke="#7ab448" stroke-width="1.2" fill="none"/>
<path d="M179.60,536.20V541.40M177.00,536.20h5.20M177.00,541.40h5.20" stroke="#7ab448" stroke-width="1.2" fill="none"/>
<path d="M188.10,542.40V547.60M185.50,542.40h5.20M185.50,547.60h5.20" stroke="#7ab448" stroke-width="1.2" fill="none"/>
<path d="M240.40,565.50V570.70M237.80,565.50h5.20M237.80,570.70h5.20" stroke="#7ab448" stroke-width="1.2" fill="none"/>
<path d="M296.80,578.90V584.10M294.20,578.90h5.20M294.20,584.10h5.20" stroke="#7ab448" stroke-width="1.2" fill="none"/>
<path d="M114.50,446.67 L117.83,452.75 L111.17,452.75Z" fill="#7ab448"/>
<path d="M116.90,453.17 L120.23,459.25 L113.57,459.25Z" fill="#7ab448"/>
<path d="M122.30,464.37 L125.63,470.45 L118.97,470.45Z" fill="#7ab448"/>
<path d="M125.40,468.97 L128.74,475.06 L122.07,475.06Z" fill="#7ab448"/>
<path d="M129.00,474.67 L132.34,480.75 L125.67,480.75Z" fill="#7ab448"/>
<path d="M133.80,484.37 L137.14,490.45 L130.47,490.45Z" fill="#7ab448"/>
<path d="M139.50,493.17 L142.84,499.25 L136.16,499.25Z" fill="#7ab448"/>
<path d="M145.50,501.17 L148.84,507.25 L142.16,507.25Z" fill="#7ab448"/>
<path d="M153.10,509.17 L156.44,515.25 L149.76,515.25Z" fill="#7ab448"/>
<path d="M162.30,518.56 L165.64,524.65 L158.97,524.65Z" fill="#7ab448"/>
<path d="M170.40,526.66 L173.74,532.75 L167.06,532.75Z" fill="#7ab448"/>
<path d="M179.60,535.46 L182.94,541.55 L176.26,541.55Z" fill="#7ab448"/>
<path d="M188.10,541.66 L191.44,547.75 L184.76,547.75Z" fill="#7ab448"/>
<path d="M240.40,564.76 L243.74,570.86 L237.06,570.86Z" fill="#7ab448"/>
<path d="M296.80,578.16 L300.13,584.25 L293.47,584.25Z" fill="#7ab448"/>
<path d="M114.50,447.00 L120.80,461.00 L125.40,466.20 L129.20,471.50 L133.50,477.50 L138.50,486.00 L144.60,495.00 L150.80,503.00 L158.80,511.50 L166.90,520.80 L176.10,530.50 L185.80,538.10 L195.00,544.20 L247.30,566.50 L296.80,577.20 L400.80,589.50" stroke="#47206a" stroke-width="1.8" fill="none" stroke-linejoin="round"/>
<path d="M120.80,458.40V463.60M118.20,458.40h5.20M118.20,463.60h5.20" stroke="#47206a" stroke-width="1.2" fill="none"/>
<path d="M125.40,463.60V468.80M122.80,463.60h5.20M122.80,468.80h5.20" stroke="#47206a" stroke-width="1.2" fill="none"/>
<path d="M129.20,468.90V474.10M126.60,468.90h5.20M126.60,474.10h5.20" stroke="#47206a" stroke-width="1.2" fill="none"/>
<path d="M133.50,474.90V480.10M130.90,474.90h5.20M130.90,480.10h5.20" stroke="#47206a" stroke-width="1.2" fill="none"/>
<path d="M138.50,483.40V488.60M135.90,483.40h5.20M135.90,488.60h5.20" stroke="#47206a" stroke-width="1.2" fill="none"/>
<path d="M144.60,492.40V497.60M142.00,492.40h5.20M142.00,497.60h5.20" stroke="#47206a" stroke-width="1.2" fill="none"/>
<path d="M150.80,500.40V505.60M148.20,500.40h5.20M148.20,505.60h5.20" stroke="#47206a" stroke-width="1.2" fill="none"/>
<path d="M158.80,508.90V514.10M156.20,508.90h5.20M156.20,514.10h5.20" stroke="#47206a" stroke-width="1.2" fill="none"/>
<path d="M166.90,518.20V523.40M164.30,518.20h5.20M164.30,523.40h5.20" stroke="#47206a" stroke-width="1.2" fill="none"/>
<path d="M176.10,527.90V533.10M173.50,527.90h5.20M173.50,533.10h5.20" stroke="#47206a" stroke-width="1.2" fill="none"/>
<path d="M185.80,535.50V540.70M183.20,535.50h5.20M183.20,540.70h5.20" stroke="#47206a" stroke-width="1.2" fill="none"/>
<path d="M195.00,541.60V546.80M192.40,541.60h5.20M192.40,546.80h5.20" stroke="#47206a" stroke-width="1.2" fill="none"/>
<path d="M247.30,563.90V569.10M244.70,563.90h5.20M244.70,569.10h5.20" stroke="#47206a" stroke-width="1.2" fill="none"/>
<path d="M296.80,574.60V579.80M294.20,574.60h5.20M294.20,579.80h5.20" stroke="#47206a" stroke-width="1.2" fill="none"/>
<path d="M400.80,586.90V592.10M398.20,586.90h5.20M398.20,592.10h5.20" stroke="#47206a" stroke-width="1.2" fill="none"/>
<circle cx="114.50" cy="447.00" r="2.60" fill="#47206a"/>
<circle cx="120.80" cy="461.00" r="2.60" fill="#47206a"/>
<circle cx="125.40" cy="466.20" r="2.60" fill="#47206a"/>
<circle cx="129.20" cy="471.50" r="2.60" fill="#47206a"/>
<circle cx="133.50" cy="477.50" r="2.60" fill="#47206a"/>
<circle cx="138.50" cy="486.00" r="2.60" fill="#47206a"/>
<circle cx="144.60" cy="495.00" r="2.60" fill="#47206a"/>
<circle cx="150.80" cy="503.00" r="2.60" fill="#47206a"/>
<circle cx="158.80" cy="511.50" r="2.60" fill="#47206a"/>
<circle cx="166.90" cy="520.80" r="2.60" fill="#47206a"/>
<circle cx="176.10" cy="530.50" r="2.60" fill="#47206a"/>
<circle cx="185.80" cy="538.10" r="2.60" fill="#47206a"/>
<circle cx="195.00" cy="544.20" r="2.60" fill="#47206a"/>
<circle cx="247.30" cy="566.50" r="2.60" fill="#47206a"/>
<circle cx="296.80" cy="577.20" r="2.60" fill="#47206a"/>
<circle cx="400.80" cy="589.50" r="2.60" fill="#47206a"/>
<path d="M114.50,445.00 L119.50,447.00 L123.50,447.50 L126.00,452.00 L127.70,458.00 L130.80,465.40 L133.80,470.80 L137.50,477.50 L141.00,484.00 L145.40,491.50 L152.50,500.50 L160.00,509.20 L168.50,518.00 L178.20,526.00 L187.50,533.00 L195.80,538.10 L247.30,561.80 L296.80,572.90 L400.80,589.50" stroke="#e8a428" stroke-width="1.8" fill="none" stroke-linejoin="round"/>
<path d="M119.50,444.40V449.60M116.90,444.40h5.20M116.90,449.60h5.20" stroke="#e8a428" stroke-width="1.2" fill="none"/>
<path d="M123.50,444.90V450.10M120.90,444.90h5.20M120.90,450.10h5.20" stroke="#e8a428" stroke-width="1.2" fill="none"/>
<path d="M126.00,449.40V454.60M123.40,449.40h5.20M123.40,454.60h5.20" stroke="#e8a428" stroke-width="1.2" fill="none"/>
<path d="M127.70,455.40V460.60M125.10,455.40h5.20M125.10,460.60h5.20" stroke="#e8a428" stroke-width="1.2" fill="none"/>
<path d="M130.80,462.80V468.00M128.20,462.80h5.20M128.20,468.00h5.20" stroke="#e8a428" stroke-width="1.2" fill="none"/>
<path d="M133.80,468.20V473.40M131.20,468.20h5.20M131.20,473.40h5.20" stroke="#e8a428" stroke-width="1.2" fill="none"/>
<path d="M137.50,474.90V480.10M134.90,474.90h5.20M134.90,480.10h5.20" stroke="#e8a428" stroke-width="1.2" fill="none"/>
<path d="M141.00,481.40V486.60M138.40,481.40h5.20M138.40,486.60h5.20" stroke="#e8a428" stroke-width="1.2" fill="none"/>
<path d="M145.40,488.90V494.10M142.80,488.90h5.20M142.80,494.10h5.20" stroke="#e8a428" stroke-width="1.2" fill="none"/>
<path d="M152.50,497.90V503.10M149.90,497.90h5.20M149.90,503.10h5.20" stroke="#e8a428" stroke-width="1.2" fill="none"/>
<path d="M160.00,506.60V511.80M157.40,506.60h5.20M157.40,511.80h5.20" stroke="#e8a428" stroke-width="1.2" fill="none"/>
<path d="M168.50,515.40V520.60M165.90,515.40h5.20M165.90,520.60h5.20" stroke="#e8a428" stroke-width="1.2" fill="none"/>
<path d="M178.20,523.40V528.60M175.60,523.40h5.20M175.60,528.60h5.20" stroke="#e8a428" stroke-width="1.2" fill="none"/>
<path d="M187.50,530.40V535.60M184.90,530.40h5.20M184.90,535.60h5.20" stroke="#e8a428" stroke-width="1.2" fill="none"/>
<path d="M195.80,535.50V540.70M193.20,535.50h5.20M193.20,540.70h5.20" stroke="#e8a428" stroke-width="1.2" fill="none"/>
<path d="M247.30,559.20V564.40M244.70,559.20h5.20M244.70,564.40h5.20" stroke="#e8a428" stroke-width="1.2" fill="none"/>
<path d="M296.80,570.30V575.50M294.20,570.30h5.20M294.20,575.50h5.20" stroke="#e8a428" stroke-width="1.2" fill="none"/>
<path d="M400.80,586.90V592.10M398.20,586.90h5.20M398.20,592.10h5.20" stroke="#e8a428" stroke-width="1.2" fill="none"/>
<path d="M114.50,448.22 L117.72,442.34 L111.28,442.34Z" fill="#e8a428"/>
<path d="M119.50,450.22 L122.72,444.34 L116.28,444.34Z" fill="#e8a428"/>
<path d="M123.50,450.72 L126.72,444.84 L120.28,444.84Z" fill="#e8a428"/>
<path d="M126.00,455.22 L129.22,449.34 L122.78,449.34Z" fill="#e8a428"/>
<path d="M127.70,461.22 L130.92,455.34 L124.48,455.34Z" fill="#e8a428"/>
<path d="M130.80,468.62 L134.02,462.74 L127.58,462.74Z" fill="#e8a428"/>
<path d="M133.80,474.02 L137.02,468.14 L130.58,468.14Z" fill="#e8a428"/>
<path d="M137.50,480.72 L140.72,474.84 L134.28,474.84Z" fill="#e8a428"/>
<path d="M141.00,487.22 L144.22,481.34 L137.78,481.34Z" fill="#e8a428"/>
<path d="M145.40,494.72 L148.62,488.84 L142.18,488.84Z" fill="#e8a428"/>
<path d="M152.50,503.72 L155.72,497.84 L149.28,497.84Z" fill="#e8a428"/>
<path d="M160.00,512.42 L163.22,506.54 L156.78,506.54Z" fill="#e8a428"/>
<path d="M168.50,521.22 L171.72,515.34 L165.28,515.34Z" fill="#e8a428"/>
<path d="M178.20,529.22 L181.42,523.34 L174.98,523.34Z" fill="#e8a428"/>
<path d="M187.50,536.22 L190.72,530.34 L184.28,530.34Z" fill="#e8a428"/>
<path d="M195.80,541.32 L199.02,535.44 L192.58,535.44Z" fill="#e8a428"/>
<path d="M247.30,565.02 L250.52,559.14 L244.08,559.14Z" fill="#e8a428"/>
<path d="M296.80,576.12 L300.02,570.24 L293.58,570.24Z" fill="#e8a428"/>
<path d="M400.80,592.72 L404.02,586.84 L397.58,586.84Z" fill="#e8a428"/>
<path d="M113.80,443.50 L120.80,449.20 L126.90,452.30 L133.10,455.40 L136.90,460.00 L139.50,465.50 L141.50,470.50 L145.40,477.50 L150.00,486.20 L154.60,491.50 L159.20,496.90 L163.10,501.50 L170.40,510.40 L178.40,518.50 L188.80,526.50 L197.30,529.60 L205.80,536.50 L257.00,558.20 L296.80,566.00 L400.80,587.50" stroke="#2e6152" stroke-width="1.8" fill="none" stroke-linejoin="round"/>
<path d="M120.80,446.20V452.20M118.20,446.20h5.20M118.20,452.20h5.20" stroke="#2e6152" stroke-width="1.2" fill="none"/>
<path d="M126.90,449.30V455.30M124.30,449.30h5.20M124.30,455.30h5.20" stroke="#2e6152" stroke-width="1.2" fill="none"/>
<path d="M133.10,452.40V458.40M130.50,452.40h5.20M130.50,458.40h5.20" stroke="#2e6152" stroke-width="1.2" fill="none"/>
<path d="M136.90,457.00V463.00M134.30,457.00h5.20M134.30,463.00h5.20" stroke="#2e6152" stroke-width="1.2" fill="none"/>
<path d="M139.50,462.50V468.50M136.90,462.50h5.20M136.90,468.50h5.20" stroke="#2e6152" stroke-width="1.2" fill="none"/>
<path d="M141.50,467.50V473.50M138.90,467.50h5.20M138.90,473.50h5.20" stroke="#2e6152" stroke-width="1.2" fill="none"/>
<path d="M145.40,474.50V480.50M142.80,474.50h5.20M142.80,480.50h5.20" stroke="#2e6152" stroke-width="1.2" fill="none"/>
<path d="M150.00,483.20V489.20M147.40,483.20h5.20M147.40,489.20h5.20" stroke="#2e6152" stroke-width="1.2" fill="none"/>
<path d="M154.60,488.50V494.50M152.00,488.50h5.20M152.00,494.50h5.20" stroke="#2e6152" stroke-width="1.2" fill="none"/>
<path d="M159.20,493.90V499.90M156.60,493.90h5.20M156.60,499.90h5.20" stroke="#2e6152" stroke-width="1.2" fill="none"/>
<path d="M163.10,498.50V504.50M160.50,498.50h5.20M160.50,504.50h5.20" stroke="#2e6152" stroke-width="1.2" fill="none"/>
<path d="M170.40,507.40V513.40M167.80,507.40h5.20M167.80,513.40h5.20" stroke="#2e6152" stroke-width="1.2" fill="none"/>
<path d="M178.40,515.50V521.50M175.80,515.50h5.20M175.80,521.50h5.20" stroke="#2e6152" stroke-width="1.2" fill="none"/>
<path d="M188.80,523.50V529.50M186.20,523.50h5.20M186.20,529.50h5.20" stroke="#2e6152" stroke-width="1.2" fill="none"/>
<path d="M197.30,526.60V532.60M194.70,526.60h5.20M194.70,532.60h5.20" stroke="#2e6152" stroke-width="1.2" fill="none"/>
<path d="M205.80,533.50V539.50M203.20,533.50h5.20M203.20,539.50h5.20" stroke="#2e6152" stroke-width="1.2" fill="none"/>
<path d="M257.00,555.20V561.20M254.40,555.20h5.20M254.40,561.20h5.20" stroke="#2e6152" stroke-width="1.2" fill="none"/>
<path d="M296.80,563.00V569.00M294.20,563.00h5.20M294.20,569.00h5.20" stroke="#2e6152" stroke-width="1.2" fill="none"/>
<path d="M400.80,584.50V590.50M398.20,584.50h5.20M398.20,590.50h5.20" stroke="#2e6152" stroke-width="1.2" fill="none"/>
<path d="M113.80,440.31 L116.70,443.50 L113.80,446.69 L110.90,443.50Z" fill="#2e6152"/>
<path d="M120.80,446.01 L123.70,449.20 L120.80,452.39 L117.90,449.20Z" fill="#2e6152"/>
<path d="M126.90,449.11 L129.80,452.30 L126.90,455.49 L124.00,452.30Z" fill="#2e6152"/>
<path d="M133.10,452.21 L136.00,455.40 L133.10,458.59 L130.20,455.40Z" fill="#2e6152"/>
<path d="M136.90,456.81 L139.80,460.00 L136.90,463.19 L134.00,460.00Z" fill="#2e6152"/>
<path d="M139.50,462.31 L142.40,465.50 L139.50,468.69 L136.60,465.50Z" fill="#2e6152"/>
<path d="M141.50,467.31 L144.40,470.50 L141.50,473.69 L138.60,470.50Z" fill="#2e6152"/>
<path d="M145.40,474.31 L148.30,477.50 L145.40,480.69 L142.50,477.50Z" fill="#2e6152"/>
<path d="M150.00,483.01 L152.90,486.20 L150.00,489.39 L147.10,486.20Z" fill="#2e6152"/>
<path d="M154.60,488.31 L157.50,491.50 L154.60,494.69 L151.70,491.50Z" fill="#2e6152"/>
<path d="M159.20,493.71 L162.10,496.90 L159.20,500.09 L156.30,496.90Z" fill="#2e6152"/>
<path d="M163.10,498.31 L166.00,501.50 L163.10,504.69 L160.20,501.50Z" fill="#2e6152"/>
<path d="M170.40,507.21 L173.30,510.40 L170.40,513.59 L167.50,510.40Z" fill="#2e6152"/>
<path d="M178.40,515.31 L181.30,518.50 L178.40,521.69 L175.50,518.50Z" fill="#2e6152"/>
<path d="M188.80,523.31 L191.70,526.50 L188.80,529.69 L185.90,526.50Z" fill="#2e6152"/>
<path d="M197.30,526.41 L200.20,529.60 L197.30,532.79 L194.40,529.60Z" fill="#2e6152"/>
<path d="M205.80,533.31 L208.70,536.50 L205.80,539.69 L202.90,536.50Z" fill="#2e6152"/>
<path d="M257.00,555.01 L259.90,558.20 L257.00,561.39 L254.10,558.20Z" fill="#2e6152"/>
<path d="M296.80,562.81 L299.70,566.00 L296.80,569.19 L293.90,566.00Z" fill="#2e6152"/>
<path d="M400.80,584.31 L403.70,587.50 L400.80,590.69 L397.90,587.50Z" fill="#2e6152"/>
<path d="M296.4,406.1H311.9" stroke="#ac153b" stroke-width="2.0"/>
<rect x="301.80" y="404.12" width="4.40" height="3.96" fill="#ac153b"/>
<text x="315.7" y="409.40000000000003" font-size="10" text-anchor="start" font-weight="normal" fill="#383838" textLength="116.60000000000001" lengthAdjust="spacingAndGlyphs">90 mg [Cohort 1] (N=6)</text>
<path d="M296.4,421.8H311.9" stroke="#274a88" stroke-width="2.0"/>
<path d="M304.00,419.38 L306.20,421.80 L304.00,424.22 L301.80,421.80Z" fill="#274a88"/>
<text x="315.7" y="425.1" font-size="10" text-anchor="start" font-weight="normal" fill="#383838" textLength="122.3" lengthAdjust="spacingAndGlyphs">210 mg [Cohort 2] (N=6)</text>
<path d="M296.4,437.6H311.9" stroke="#7ab448" stroke-width="2.0"/>
<path d="M304.00,435.07 L306.53,439.69 L301.47,439.69Z" fill="#7ab448"/>
<text x="315.7" y="440.90000000000003" font-size="10" text-anchor="start" font-weight="normal" fill="#383838" textLength="122.3" lengthAdjust="spacingAndGlyphs">420 mg [Cohort 3] (N=6)</text>
<path d="M296.4,453.3H311.9" stroke="#47206a" stroke-width="2.0"/>
<circle cx="304.00" cy="453.30" r="2.20" fill="#47206a"/>
<text x="315.7" y="456.6" font-size="10" text-anchor="start" font-weight="normal" fill="#383838" textLength="193.79999999999998" lengthAdjust="spacingAndGlyphs">420 mg/4 mg x 45 min [Cohort 4] (N=6)</text>
<path d="M296.4,468.7H311.9" stroke="#e8a428" stroke-width="2.0"/>
<path d="M304.00,471.23 L306.53,466.61 L301.47,466.61Z" fill="#e8a428"/>
<text x="315.7" y="472.0" font-size="10" text-anchor="start" font-weight="normal" fill="#383838" textLength="163.39999999999998" lengthAdjust="spacingAndGlyphs">420 mg/180 mg [Cohort 5] (N=6)</text>
<path d="M296.4,484.7H311.9" stroke="#2e6152" stroke-width="2.0"/>
<path d="M304.00,482.28 L306.20,484.70 L304.00,487.12 L301.80,484.70Z" fill="#2e6152"/>
<text x="315.7" y="488.0" font-size="10" text-anchor="start" font-weight="normal" fill="#383838" textLength="175.79999999999998" lengthAdjust="spacingAndGlyphs">420 mg/4 mg x 2 h [Cohort 6] (N=6)</text>
<rect x="1" y="1" width="518" height="685" fill="none" stroke="#000" stroke-width="2"/>
</svg>
</body></html>
